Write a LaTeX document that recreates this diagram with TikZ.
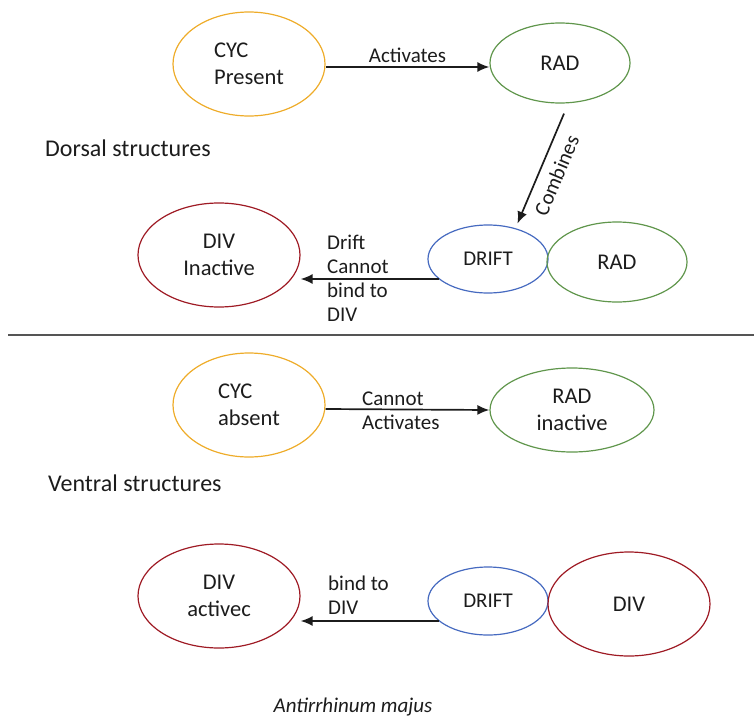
\documentclass[tikz,border=0pt]{standalone}
\usepackage{fontspec}
\setmainfont{Carlito}
\usetikzlibrary{shapes.geometric,arrows.meta}

\definecolor{cycgold}{RGB}{238,172,42}
\definecolor{radgreen}{RGB}{96,150,76}
\definecolor{driftblue}{RGB}{70,106,192}
\definecolor{divred}{RGB}{158,26,36}
\definecolor{ink}{RGB}{28,28,28}
\definecolor{rule}{RGB}{85,85,85}

\begin{document}
\begin{tikzpicture}[x=1pt,y=-1pt,
  gene/.style={ellipse, draw, line width=1.2pt, inner sep=0pt, align=center,
    font=\fontsize{22.5}{26.5}\selectfont, text=ink},
  cycnode/.style={gene, draw=cycgold, minimum width=152pt, minimum height=104pt},
  radnode/.style={gene, draw=radgreen, minimum width=140pt, minimum height=80pt},
  driftnode/.style={gene, draw=driftblue, minimum width=120pt, minimum height=68pt,
    font=\fontsize{21}{24}\selectfont},
  divnode/.style={gene, draw=divred, minimum width=162pt, minimum height=104pt},
  lbl/.style={font=\fontsize{21}{24}\selectfont, text=ink, align=left, inner sep=0pt},
  heading/.style={font=\fontsize{24}{28}\selectfont, text=ink, inner sep=0pt, anchor=west},
  arr/.style={draw=ink, line width=1.7pt, -{Latex[length=12pt,width=10pt]}}
]
\useasboundingbox (0,0) rectangle (754,717);

% ---- dorsal half ----
\node[cycnode, align=left] (cycp) at (249,64) {CYC\\Present};
\node[radnode] (rad1) at (560,63) {RAD};
\node[heading] (dorsal) at (45,148) {Dorsal structures};
\node[driftnode] (drift1) at (488,259) {DRIFT};
\node[radnode] (rad2) at (617,262) {RAD};
\node[divnode] (divi) at (219,255) {DIV\\Inactive};

\draw[arr] ([yshift=-3pt]cycp.east) -- ([yshift=-3pt]cycp.east -| rad1.west)
  node[midway, above=3pt, lbl] (lact) {Activates};
\draw[arr] ([shift={(4pt,-10pt)}]rad1.south) -- ([shift={(4pt,4pt)}]drift1.51)
  node[midway, sloped, below=9pt, lbl] (lcomb) {Combines};
\draw[arr] (drift1.202) -- (drift1.202 -| divi.east);
\node[lbl, anchor=west] (lnobind) at (327,278) {Drift\\Cannot\\bind to\\DIV};

% ---- separator ----
\draw[draw=rule, line width=2.2pt] (8,335) -- (754,335);

% ---- ventral half ----
\node[cycnode, align=left] (cyca) at (249,405) {CYC\\absent};
\node[radnode, minimum width=164pt, minimum height=84pt] (radi) at (572,410) {RAD\\inactive};
\node[heading] (ventral) at (48,483) {Ventral structures};
\node[divnode] (diva) at (219,596) {DIV\\activec};
\node[driftnode] (drift2) at (488,601) {DRIFT};
\node[divnode] (div2) at (629,604) {DIV};

\draw[arr] ([yshift=-4pt]cyca.east) -- (radi.west);
\node[lbl, anchor=west] (lnoact) at (362,411) {Cannot\\Activates};
\draw[arr] (drift2.202) -- (drift2.202 -| diva.east);
\node[lbl, anchor=west] (lbind) at (328,595) {bind to\\DIV};

\node[font=\fontsize{21}{24}\selectfont\itshape, text=ink, inner sep=0pt, anchor=base]
  (species) at (353,712) {Antirrhinum majus};
\end{tikzpicture}
\end{document}
